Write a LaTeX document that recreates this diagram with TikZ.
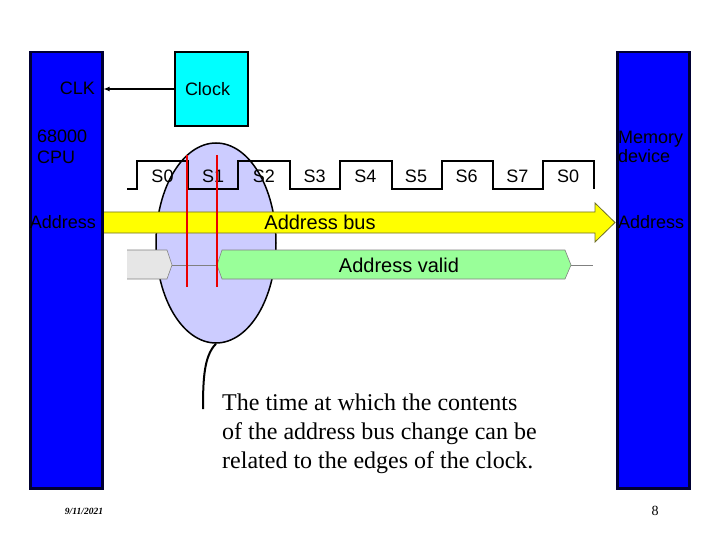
\documentclass[tikz,border=0pt]{standalone}
\usepackage{fontspec}
\setmainfont{Liberation Serif}
\setsansfont{Liberation Sans}
\usetikzlibrary{positioning,shapes.geometric,arrows.meta}
\definecolor{barBlue}{RGB}{0,0,255}
\definecolor{clkCyan}{RGB}{0,255,255}
\definecolor{busYellow}{RGB}{255,255,0}
\definecolor{busEdge}{RGB}{110,110,40}
\definecolor{validGreen}{RGB}{153,255,153}
\definecolor{oldGray}{RGB}{230,230,230}
\definecolor{ovalLilac}{RGB}{204,204,255}
\definecolor{edgeRed}{RGB}{235,0,0}
\tikzset{
  devbar/.style={rectangle,draw=black!80!blue,line width=2.5pt,fill=barBlue,
    minimum width=72pt,minimum height=436pt,anchor=north west,inner sep=0pt},
  clockbox/.style={rectangle,draw=black,line width=2pt,fill=clkCyan,
    minimum width=73pt,minimum height=74pt,anchor=north west,
    text width=53pt,align=left,inner sep=10pt,font=\sffamily\fontsize{18}{21}\selectfont},
  lbl/.style={font=\sffamily\fontsize{18}{20}\selectfont,inner sep=0pt},
  buslbl/.style={font=\sffamily\fontsize{20}{22}\selectfont,inner sep=0pt},
  wave/.style={line width=2.8pt,line join=miter},
  busarrow/.style={draw=busEdge,line width=0.8pt,fill=busYellow},
  oldvalue/.style={draw=gray,line width=0.6pt,fill=oldGray},
  newvalue/.style={draw=gray,line width=0.6pt,fill=validGreen},
  edgeline/.style={draw=edgeRed,line width=1.1pt},
  callout/.style={line width=2pt},
  note/.style={font=\rmfamily\fontsize{24}{29}\selectfont,align=left,inner sep=0pt}
}
\begin{document}
\begin{tikzpicture}[x=1pt,y=-1pt]
  \useasboundingbox (0,0) rectangle (720,540);
  % the region of interest around S0/S1
  \node[ellipse,draw=black,line width=1.5pt,fill=ovalLilac,
    minimum width=120pt,minimum height=200pt,inner sep=0pt] (oval) at (216,243) {};
  % clock waveform
  \draw[wave] (127,189) -| (137,161) -| (188,189) -| (238,161) -| (290,189)
    -| (340,161) -| (392,189) -| (442,161) -| (493,189) -| (543,161) -| (594,189);
  \foreach \s [count=\i from 0] in {S0,S1,S2,S3,S4,S5,S6,S7,S0}
    \node[lbl] (s\i) at ({162.5+50.7*\i},176) {\s};
  % address bus
  \draw[busarrow] (102,212) -- (595,212) -- (595,203) -- (615,222.5)
    -- (595,242) -- (595,233) -- (102,233) -- cycle;
  \node[buslbl] (bus) at (320,222.5) {Address bus};
  % address valid
  \fill[oldGray] (127,250) -- (167,250) -- (172,265) -- (167,279) -- (127,279) -- cycle;
  \draw[gray,line width=0.6pt] (127,250) -- (167,250) -- (172,265) -- (167,279) -- (127,279);
  \draw[newvalue] (217,265) -- (222,250) -- (565,250) -- (571,265)
    -- (565,279) -- (222,279) -- cycle;
  \draw[gray,line width=0.6pt] (172,265) -- (217,265) (571,265) -- (593,265);
  \node[buslbl] (valid) at (399,265) {Address valid};
  % clock edges
  \draw[edgeline] (187,155) -- (187,287);
  \draw[edgeline] (217,155) -- (217,287);
  % devices
  \node[devbar] (cpu) at (29,51) {};
  \node[devbar] (mem) at (616,51) {};
  \node[clockbox] (clock) at (174,51) {Clock};
  \draw[line width=2pt,-{Latex[length=6pt,width=5pt]}] (clock.west) -- (clock.west -| cpu.east);
  \node[lbl,anchor=east] (clk) at (95,88) {CLK};
  \node[lbl,anchor=north west,align=left,font=\sffamily\fontsize{18}{21}\selectfont]
    (cpulbl) at (37,130) {68000\\CPU};
  \node[lbl,anchor=east] (cpuaddr) at (96,222.5) {Address};
  \node[lbl,anchor=north west,align=left,font=\sffamily\fontsize{18}{19}\selectfont]
    (memlbl) at (618,131) {Memory\\device};
  \node[lbl,anchor=west] (memaddr) at (618,222.5) {Address};
  % explanation
  \node[note,anchor=north west] (note) at (222,394)
    {The time at which the contents\\of the address bus change can be\\related to the edges of the clock.};
  \coordinate (tip) at (203,409);
  \draw[callout] (oval.south) .. controls +(-12,12) and +(0,-30) .. (tip);
  % footer
  \node[font=\rmfamily\bfseries\itshape\fontsize{9.5}{9.5}\selectfont] (date) at (84,511) {9/11/2021};
  \node[font=\rmfamily\fontsize{14}{14}\selectfont] (page) at (655,511) {8};
\end{tikzpicture}
\end{document}
